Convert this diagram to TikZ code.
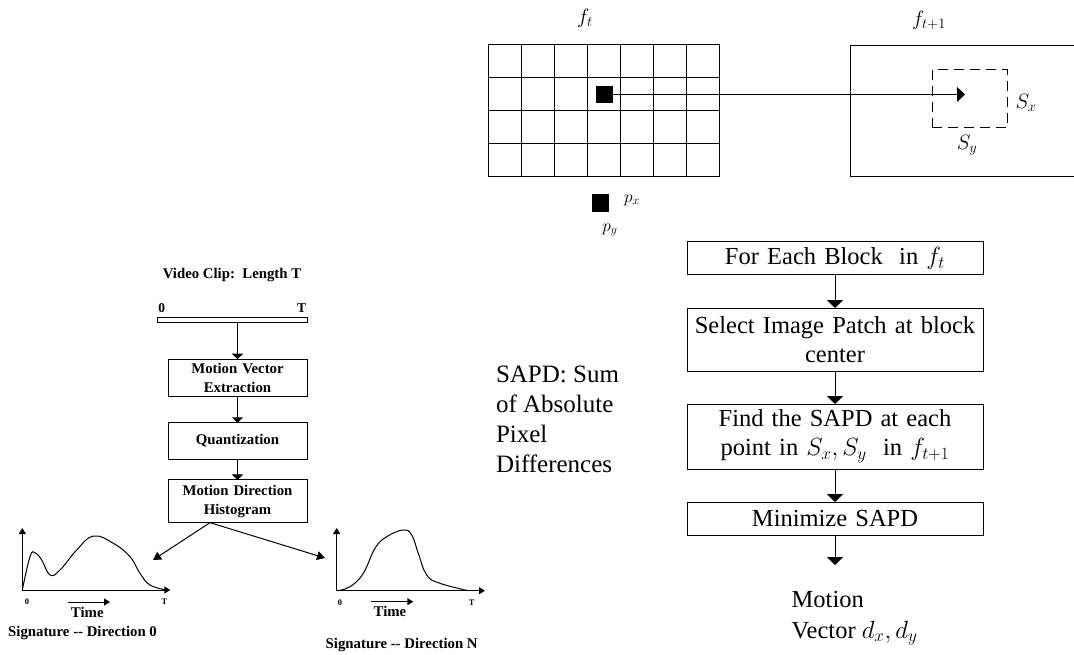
\documentclass[tikz,border=0pt]{standalone}
\usepackage{fontspec}
\setmainfont{Liberation Serif}
\usetikzlibrary{arrows.meta,positioning,calc}

\begin{document}
\begin{tikzpicture}[%
    x=1pt, y=-1pt,              % one unit per pixel, y runs downwards
    line width=1pt,
    every node/.style={inner sep=0pt, outer sep=0pt}]
% -------------------------------------------------
% Text, box and connector styles
\tikzset{
  big/.style={font=\fontsize{24.5}{29}\selectfont},
  lab/.style={font=\fontsize{14.8}{18.5}\selectfont\bfseries},
  tiny/.style={font=\fontsize{8.5}{10}\selectfont\bfseries},
  mlab/.style={font=\fontsize{21}{24}\selectfont},
  plab/.style={font=\fontsize{18}{20}\selectfont},
  rbox/.style={draw, big, align=center, text width=296pt, minimum height=33pt},
  lbox/.style={draw, lab, align=center, text width=139pt},
  rflow/.style={-{Triangle[width=16pt,length=8pt]}},
  lflow/.style={-{Triangle[width=11pt,length=5.5pt]}},
  split/.style={-{Triangle[width=9pt,length=8pt]}},
  axis/.style={-{Triangle[width=7pt,length=6pt]}},
  curve/.style={smooth, tension=0.7}
}
\useasboundingbox (0,0) rectangle (1074,655);

% -------------------------------------------------
% Frame f_t with its block grid, frame f_{t+1} with the search window
\node[draw, minimum width=231pt, minimum height=132pt] (ft) at (603.5,111) {};
\foreach \i in {1,...,6}
  \draw (ft.north west) ++(33*\i,0) -- ++(0,132);
\foreach \j in {1,2,3}
  \draw (ft.north west) ++(0,33*\j) -- ++(231,0);
\node[fill, minimum width=17pt, minimum height=17pt] (blk) at (604.5,94.5) {};
\node[mlab] (lft) at (585,18) {$f_t$};

\node[draw, minimum width=230pt, minimum height=131pt] (ft1) at (965,111.5) {};
\node[mlab] (lft1) at (929,20) {$f_{t+1}$};
\node[draw, dash pattern=on 10pt off 6pt, minimum width=75pt,
  minimum height=58pt] (win) at (969.5,99) {};
\node[mlab] (lsx) at (1026,103) {$S_x$};
\node[mlab] (lsy) at (967,145) {$S_y$};
\coordinate (tip) at (965,94.5);
\draw[-{Triangle[width=15pt,length=8pt]}] (blk.east) -- (tip);

% the patch below the frame
\node[fill, minimum width=17pt, minimum height=18pt] (pix) at (600.5,203) {};
\node[plab] (lpx) at (632,200) {$p_x$};
\node[plab] (lpy) at (610,230) {$p_y$};

% -------------------------------------------------
% Right flow: block matching
\node[rbox] (r1) at (835,258.5) {For Each Block\ \ in $f_t$};
\node[rbox, minimum height=63pt, below=33pt of r1] (r2)
  {Select Image Patch at block\\ center};
\node[rbox, minimum height=65pt, below=33pt of r2] (r3)
  {Find the SAPD at each\\ point in $S_x,S_y$\ \ in $f_{t+1}$};
\node[rbox, below=33pt of r3] (r4) {Minimize SAPD};
\node[big, align=left, anchor=north west, font=\fontsize{24.5}{31}\selectfont]
  (mv) at (791.7,591) {Motion\\ Vector $d_x,d_y$};
\coordinate (mvtop) at (835,565);

\draw[rflow] (r1) -- (r2);
\draw[rflow] (r2) -- (r3);
\draw[rflow] (r3) -- (r4);
\draw[rflow] (r4) -- (mvtop);

\node[anchor=north west, align=left, font=\fontsize{25}{30}\selectfont]
  (sapd) at (496,366) {SAPD: Sum\\ of Absolute\\ Pixel\\ Differences};

% -------------------------------------------------
% Left flow: video clip to direction signatures
\node[lab] (lvc) at (232,275) {Video Clip:\ \ Length T};
\node[draw, minimum width=150pt, minimum height=5pt] (bar) at (232,319.5) {};
\node[font=\fontsize{13.5}{16}\selectfont\bfseries] (b0) at (161.7,308) {0};
\node[font=\fontsize{13.5}{16}\selectfont\bfseries] (bT) at (301.5,308) {T};

\node[lbox, minimum height=37pt] (mve) at (237.5,377.7) {Motion Vector\\ Extraction};
\node[lbox, minimum height=36.5pt] (qz) at (237.5,441) {Quantization};
\node[lbox, minimum height=42.7pt] (hist) at (237.5,501.3) {Motion Direction\\ Histogram};

\draw[lflow] (bar.south -| mve) -- (mve.north);
\draw[lflow] (mve) -- (qz);
\draw[lflow] (qz) -- (hist);

\coordinate (hs) at ([xshift=-27.5pt]hist.south);
\coordinate (g0in) at (153,560);
\coordinate (gnin) at (325,558);
\draw[split] (hs) -- (g0in);
\draw[split] (hs) -- (gnin);

% signature of direction 0
\coordinate (o0) at (22.3,590);
\draw[axis] (o0) -- ++(0,-62);
\draw[axis] (o0) -- ++(148,0);
\draw[curve] plot coordinates {(22.3,590) (30,556.7) (35,552.7) (41.7,560)
  (50,575) (60,570) (76.7,550) (93.3,536) (113.3,543.3) (130,556.7)
  (140,573.3) (150,585) (166.7,590)};
\node[tiny] (g0a) at (27,602) {0};
\node[tiny] (g0b) at (164.5,602) {T};
\draw[axis] (68.3,602) -- (110,602);
\node[lab] (g0t) at (87.3,612) {Time};
\node[lab] (sig0) at (82.5,633) {Signature -{}- Direction 0};

% signature of direction N
\coordinate (on) at (336.7,590.7);
\draw[axis] (on) -- ++(0,-62.7);
\draw[axis] (on) -- ++(148.3,0);
\draw[curve] plot coordinates {(336.7,590.7) (350,586.7) (363.3,573.3)
  (375,548.3) (386.7,536.7) (403.3,530) (411.7,535) (418.3,553.3)
  (426.7,575) (440,583.3) (468.3,590.7)};
\node[tiny] (gna) at (340,602.7) {0};
\node[tiny] (gnb) at (471.7,602.7) {T};
\draw[axis] (370.7,601.7) -- (413.3,601.7);
\node[lab] (gnt) at (390,611.7) {Time};
\node[lab] (sign) at (401.7,645) {Signature -{}- Direction N};
\end{tikzpicture}
\end{document}
